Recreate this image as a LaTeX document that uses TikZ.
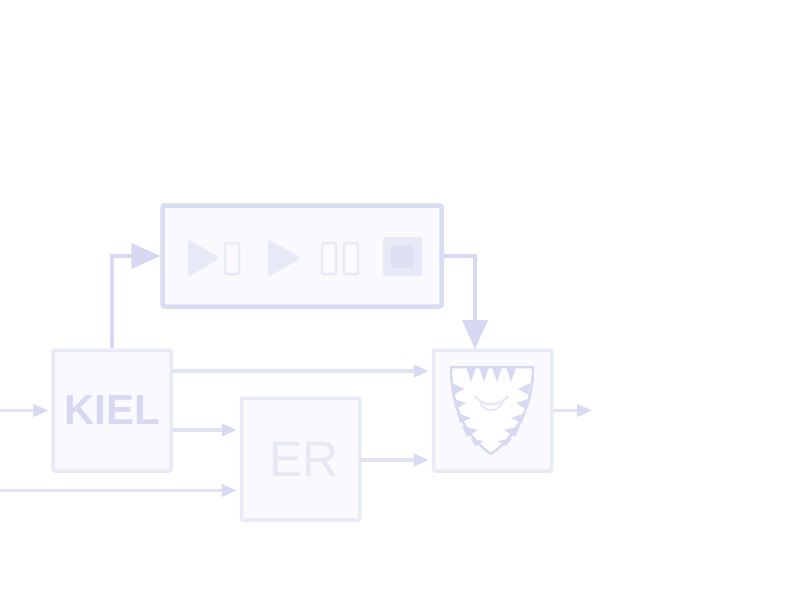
\documentclass[tikz,border=0pt]{standalone}
\usepackage{fontspec}
\setmainfont{Liberation Sans}
\usetikzlibrary{arrows.meta}
\definecolor{wire}{HTML}{E1E3F5}
\definecolor{rim}{HTML}{E9EAF7}
\definecolor{pane}{HTML}{FAFAFE}
\definecolor{glyph}{HTML}{E8E9F7}
\definecolor{ink}{HTML}{D6D9F1}
\begin{document}
\begin{tikzpicture}[x=1pt,y=-1pt,
  block/.style={draw=rim,fill=pane,line width=3.5pt,rounded corners=2pt,minimum width=118pt,minimum height=121pt,inner sep=0pt},
  thinwire/.style={draw=wire,line width=3.5pt,shorten >=3pt,-{Triangle[length=15pt,width=12pt,fill=ink,color=ink]}},
  fatwire/.style={draw=ink,line width=4.5pt,-{Triangle[length=29pt,width=25pt,fill=ink,color=ink]}},
  icon/.style={draw=rim,line width=2.5pt,rounded corners=1.5pt}]
\useasboundingbox (0,0) rectangle (800,600);

\node[block] (kiel) at (112,410.5) {\fontsize{42}{42}\selectfont\bfseries\color{ink}KIEL};
\node[block,minimum height=122pt] (er) at (300.5,459) {\hspace{7pt}\raisebox{-3pt}{\fontsize{50}{50}\selectfont\color{rim!90!ink}ER}};
\node[block] (shield) at (492.5,410.5) {};
\node[block,draw=ink!90!white,line width=4.5pt,minimum width=279pt,minimum height=101pt] (player) at (302,256) {};

\coordinate (in1) at (0,410.5);
\coordinate (in2) at (0,490.5);
\coordinate (out) at (592,410.5);
\coordinate (drop) at (475,349);
\coordinate (tap1) at (172,371);
\coordinate (tap2) at (172,430);
\coordinate (tap3) at (360,460);

%feedback round the player
\draw[fatwire] (kiel.north) |- (player.west);
\draw[fatwire] (player.east) -| (drop);

\draw[thinwire] (in1)--(kiel.west);
\draw[thinwire] (in2)--(in2-|er.west);
\draw[thinwire] (tap1)--(tap1-|shield.west);
\draw[thinwire] (tap2)--(tap2-|er.west);
\draw[thinwire] (tap3)--(tap3-|shield.west);
\draw[thinwire,shorten >=0pt] (shield.east)--(out);

%player buttons
\draw[icon,fill=glyph] (189,241)--(218,258)--(189,275)--cycle;
\draw[icon] (225,243) rectangle (239,274);
\draw[icon,fill=glyph] (269,241)--(299,258)--(269,275)--cycle;
\draw[icon] (322,243) rectangle (336,274);
\draw[icon] (344,243) rectangle (358,274);
\draw[icon,fill=glyph] (384,238) rectangle (421,275);
\fill[ink!80!white] (391,245) rectangle (414,268);

%shield
\draw[draw=ink,line width=2.5pt,fill=white,line join=round] (451,367)--(533,367)
  .. controls (533,405) and (518,435) .. (491,454)
  .. controls (464,435) and (451,405) .. (451,367)--cycle;
\foreach \dx in {-20,-7,6,20}
  \fill[ink] (491+\dx-5,367)--(491+\dx+5,367)--(491+\dx,382)--cycle;
\foreach \ba/\bb/\ta/\tb/\ca/\cb in {452/383/464/389/453/395,454/399/466/403/456/409,457/413/471/418/460/423,462/426/478/430/467/437,470/439/484/441/476/446}{
  \fill[ink] (\ba,\bb)--(\ta,\tb)--(\ca,\cb)--cycle;
  \fill[ink] (982-\ba,\bb)--(982-\ta,\tb)--(982-\ca,\cb)--cycle;
}
\draw[glyph,line width=2.5pt] (475,396) .. controls (482,407) and (500,407) .. (508,396);
\draw[glyph,line width=2pt] (480,402) .. controls (486,413) and (496,413) .. (503,402);
\end{tikzpicture}
\end{document}
